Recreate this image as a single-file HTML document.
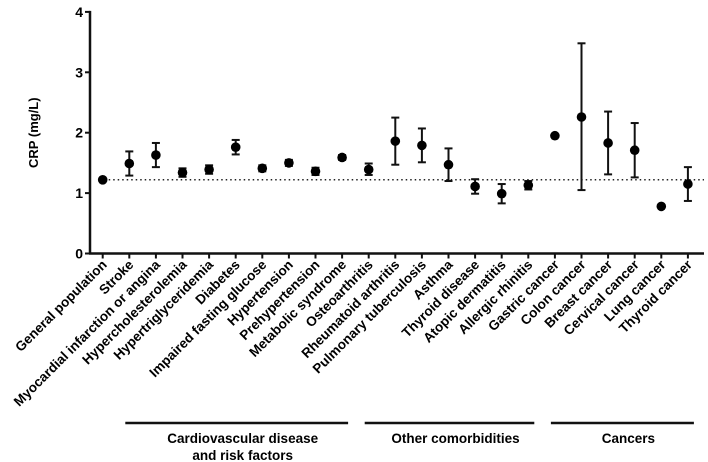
<!DOCTYPE html>
<html><head><meta charset="utf-8"><style>
body{margin:0;background:#fff;}
svg{display:block;font-family:"Liberation Sans",Arial,sans-serif;}
</style></head><body>
<svg id="chart" width="708" height="462" viewBox="0 0 708 462" xmlns="http://www.w3.org/2000/svg"></svg>
<script>
const categories=["General population","Stroke","Myocardial infarction or angina","Hypercholesterolemia","Hypertriglyceridemia","Diabetes","Impaired fasting glucose","Hypertension","Prehypertension","Metabolic syndrome","Osteoarthritis","Rheumatoid arthritis","Pulmonary tuberculosis","Asthma","Thyroid disease","Atopic dermatitis","Allergic rhinitis","Gastric cancer","Colon cancer","Breast cancer","Cervical cancer","Lung cancer","Thyroid cancer"];
const means=[1.22,1.49,1.63,1.34,1.39,1.76,1.41,1.50,1.36,1.59,1.39,1.86,1.79,1.47,1.11,0.99,1.13,1.95,2.26,1.83,1.71,0.78,1.15];
const lows=[1.22,1.29,1.43,1.27,1.32,1.64,1.36,1.45,1.30,1.55,1.30,1.47,1.51,1.20,0.99,0.83,1.06,1.95,1.05,1.31,1.26,0.78,0.87];
const highs=[1.22,1.69,1.83,1.41,1.46,1.88,1.46,1.55,1.42,1.63,1.49,2.25,2.07,1.74,1.23,1.15,1.20,1.95,3.48,2.35,2.16,0.78,1.43];
const yTicks=[0,1,2,3,4];
const refValue=1.22;
const groups=[{label:["Cardiovascular disease","and risk factors"],from:1,to:9},{label:["Other comorbidities"],from:10,to:16},{label:["Cancers"],from:17,to:22}];
const NS="http://www.w3.org/2000/svg";
const svg=document.getElementById('chart');
const y0=253.5,yPer=60.4,xFirst=102.7,xStep=26.6,axisX=90;
function yS(v){return y0-v*yPer;}
function xS(i){return xFirst+i*xStep;}
function mk(t,a,p){const e=document.createElementNS(NS,t);for(const k in a)e.setAttribute(k,a[k]);(p||svg).appendChild(e);return e;}
let e=mk('line',{x1:axisX,y1:yS(4)-1,x2:axisX,y2:y0+1,stroke:'#111','stroke-width':2.5});


e=mk('line',{x1:axisX-1,y1:y0,x2:704,y2:y0,stroke:'#111','stroke-width':2.5});


yTicks.forEach(v=>{
 let t=mk('line',{x1:axisX-5,y1:yS(v),x2:axisX,y2:yS(v),stroke:'#111','stroke-width':2});
 
 
 let l=mk('text',{x:axisX-7,y:yS(v)+5,'text-anchor':'end','font-size':14,'font-weight':'bold'});
 l.textContent=v;
 
 
});
let yt=mk('text',{x:0,y:0,'font-size':13,'font-weight':'bold','text-anchor':'middle',transform:'translate(38,'+yS(2)+') rotate(-90)'});
yt.textContent='CRP (mg/L)';


e=mk('line',{x1:xS(0)+6,y1:yS(refValue),x2:704,y2:yS(refValue),stroke:'#222','stroke-width':1.5,'stroke-dasharray':'1.5,3'});


categories.forEach((c,i)=>{
 const x=xS(i);
 let t=mk('line',{x1:x,y1:y0,x2:x,y2:y0+5,stroke:'#111','stroke-width':2});
 
 
 let l=mk('text',{x:0,y:0,'text-anchor':'end','font-size':13.5,'font-weight':'bold',transform:'translate('+(x+5)+','+(y0+12)+') rotate(-45)'});
 l.textContent=c;
 
 
 if(highs[i]-lows[i]>0.02){
  let g=mk('g',{stroke:'#111','stroke-width':2});
  
  
  mk('line',{x1:x,y1:yS(lows[i]),x2:x,y2:yS(highs[i])},g);
  mk('line',{x1:x-4,y1:yS(lows[i]),x2:x+4,y2:yS(lows[i])},g);
  mk('line',{x1:x-4,y1:yS(highs[i]),x2:x+4,y2:yS(highs[i])},g);
 }
 let p=mk('circle',{cx:x,cy:yS(means[i]),r:4.8,fill:'#000'});
 
 
});
groups.forEach(g=>{
 const x1=xS(g.from)-4,x2=xS(g.to)+6;
 let l=mk('line',{x1:x1,y1:423,x2:x2,y2:423,stroke:'#111','stroke-width':2.5});
 
 
 g.label.forEach((s,k)=>{
  let t=mk('text',{x:(x1+x2)/2+6,y:443+k*17,'text-anchor':'middle','font-size':13.5,'font-weight':'bold'});
  t.textContent=s;
  
  
 });
});
</script>
</body></html>
